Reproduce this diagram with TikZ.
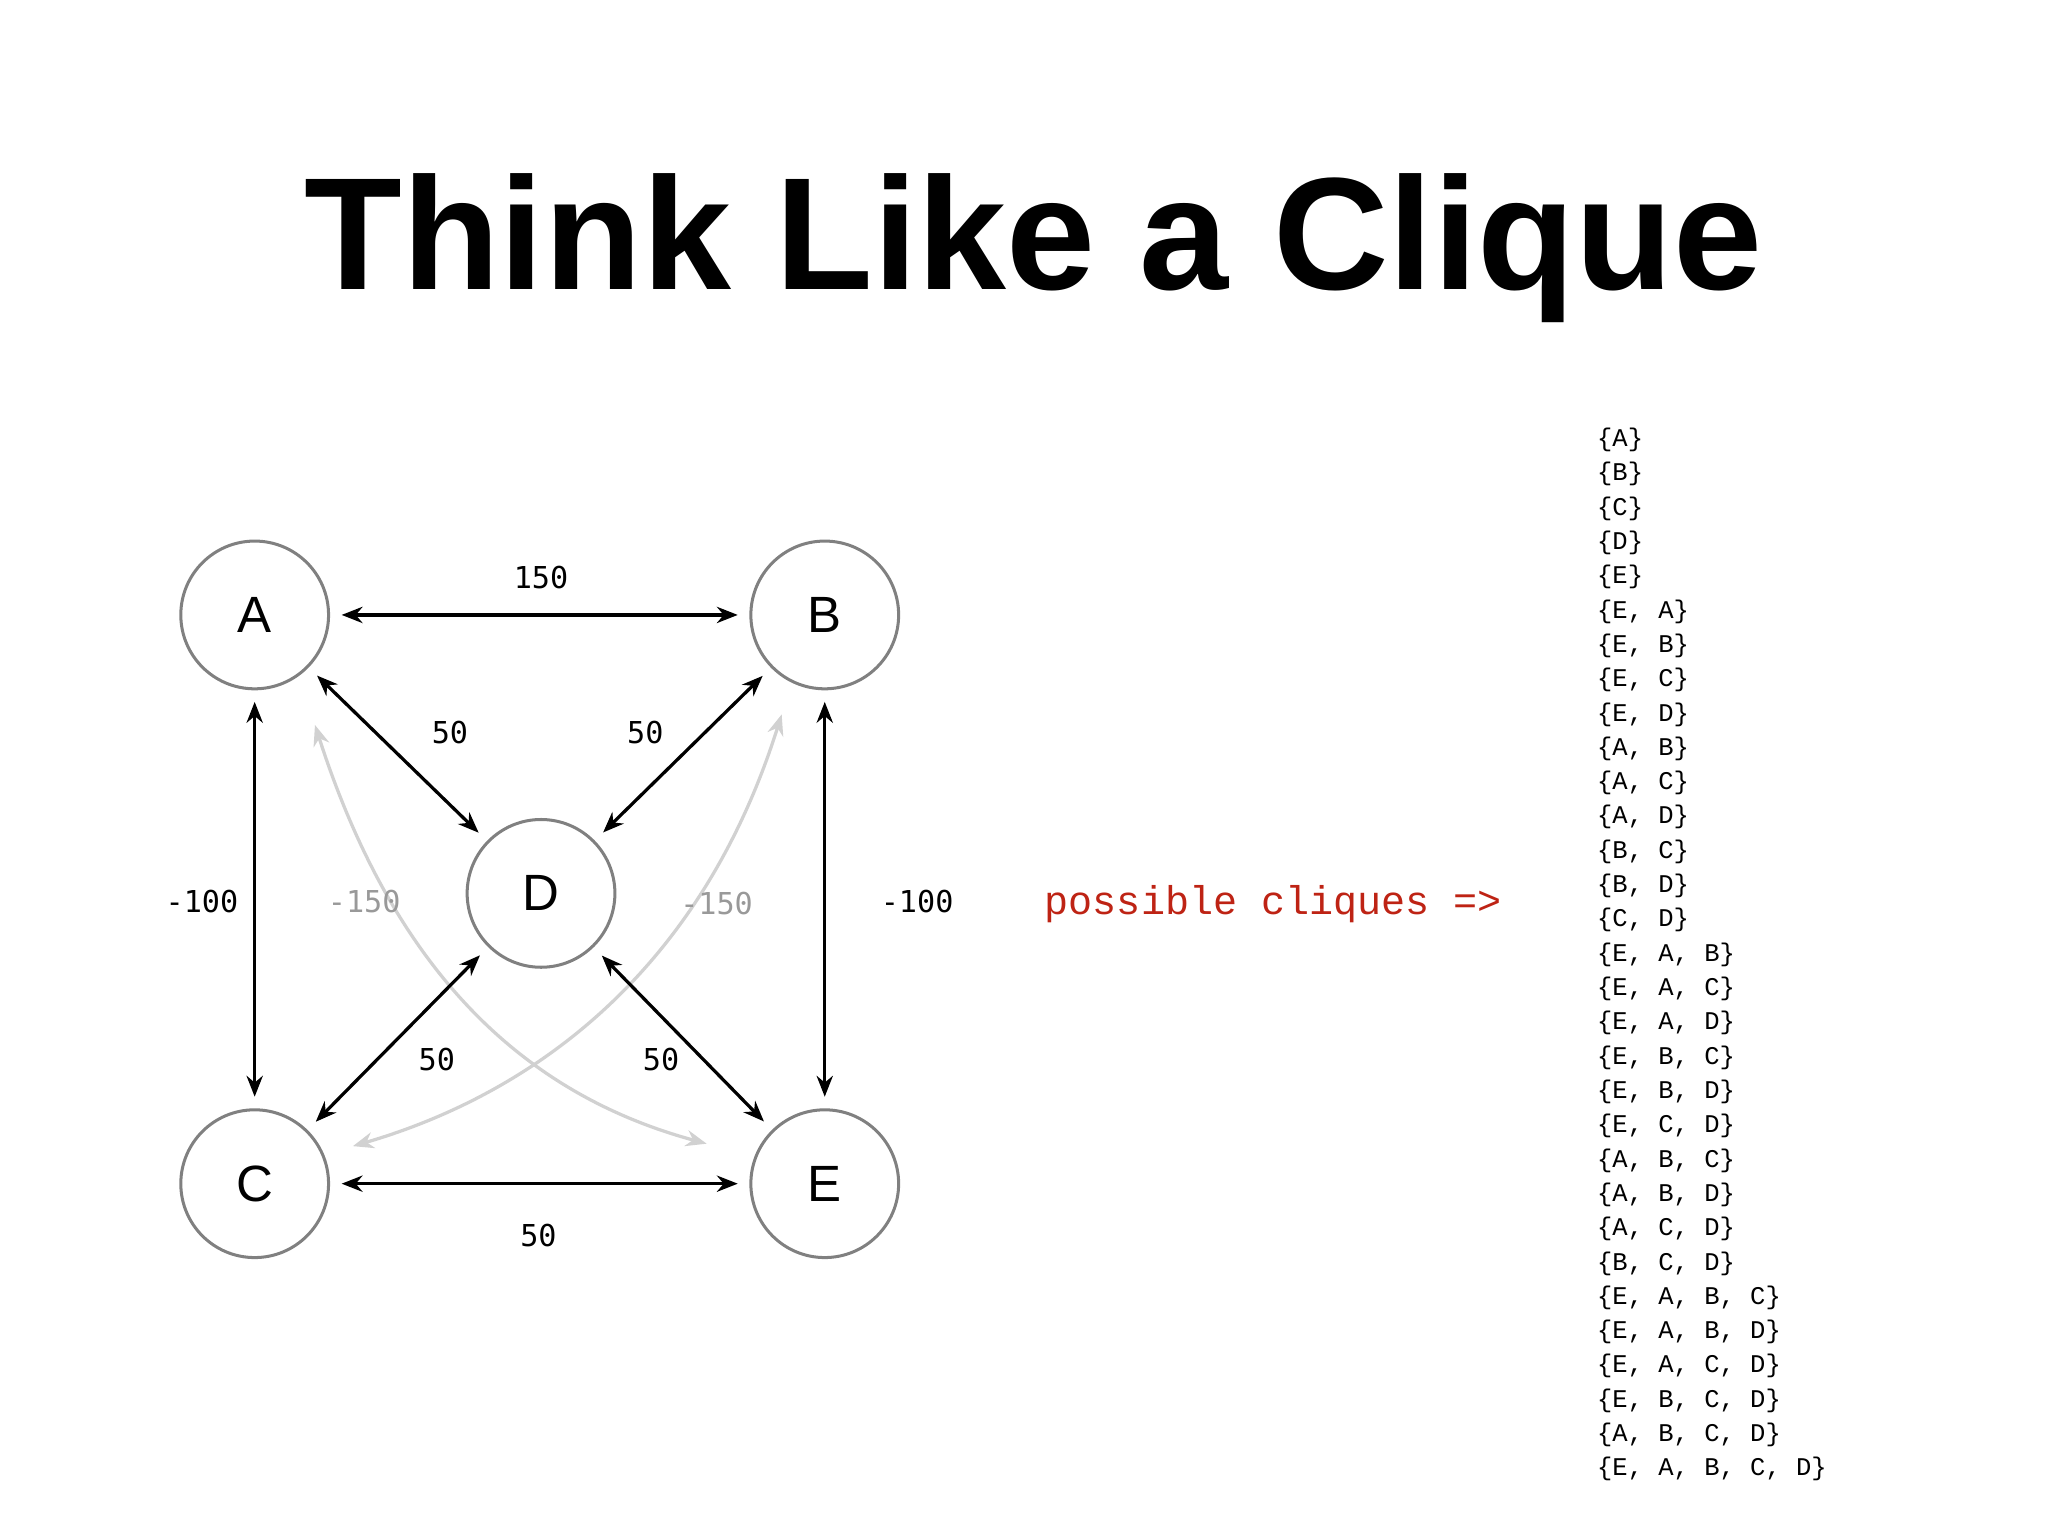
\documentclass[tikz,border=0pt]{standalone}
\usepackage{fontspec}
\setmainfont{Liberation Sans}
\newfontfamily\cour{Liberation Mono}
\newfontfamily\mono{DejaVu Sans Mono}
\usetikzlibrary{arrows.meta}
\begin{document}
\begin{tikzpicture}[x=0.02cm,y=-0.02cm,
  vert/.style={circle,draw=black!50,line width=1.3pt,minimum size=2.24cm,inner sep=0pt,font=\fontsize{22}{26}\selectfont},
  edge/.style={{Stealth[length=9pt,width=7pt]}-{Stealth[length=9pt,width=7pt]},line width=1.4pt,shorten <=5pt,shorten >=5pt},
  gedge/.style={edge,draw=black!18},
  elab/.style={font=\mono\fontsize{13}{15}\selectfont}]
\useasboundingbox (0,0) rectangle (1552,1164);
\node[font=\bfseries\fontsize{69}{74}\selectfont] (t) at (783,188) {Think Like a Clique};
\node[vert] (A) at (193,466) {A};
\node[vert] (B) at (625,466) {B};
\node[vert] (C) at (193,897) {C};
\node[vert] (D) at (410,677) {D};
\node[vert] (E) at (625,897) {E};
\coordinate (ga) at (236,541);
\coordinate (ge) at (544,869);
\coordinate (gb) at (595,533);
\coordinate (gc) at (259,871);
\draw[gedge] (ga) .. controls (300,740) and (400,830) .. (ge);
\draw[gedge] (gb) .. controls (530,740) and (400,830) .. (gc);
\draw[edge] (A) -- (B);
\draw[edge] (C) -- (E);
\draw[edge] (A) -- (C);
\draw[edge] (B) -- (E);
\draw[edge] (A) -- (D);
\draw[edge] (B) -- (D);
\draw[edge] (C) -- (D);
\draw[edge] (E) -- (D);
\node[elab] (l1) at (410,438) {150};
\node[elab] (l2) at (408,936) {50};
\node[elab] (l3) at (153,683) {-100};
\node[elab] (l4) at (695,683) {-100};
\node[elab] (l5) at (341,555) {50};
\node[elab] (l6) at (489,555) {50};
\node[elab] (l7) at (331,803) {50};
\node[elab] (l8) at (501,803) {50};
\node[elab,text=black!40] (l9) at (276,683) {-150};
\node[elab,text=black!40] (l10) at (543,685) {-150};
\node[font=\cour\fontsize{17.3}{20}\selectfont,text={rgb,255:red,190;green,35;blue,20}] (pc) at (965,685) {possible cliques =>};
\node[anchor=north west,inner sep=0pt,font=\cour\fontsize{11}{14.8}\selectfont,align=left] (list) at (1210,324) {%
\{A\}\\\{B\}\\\{C\}\\\{D\}\\\{E\}\\\{E, A\}\\\{E, B\}\\\{E, C\}\\\{E, D\}\\\{A, B\}\\\{A, C\}\\\{A, D\}\\\{B, C\}\\\{B, D\}\\\{C, D\}\\%
\{E, A, B\}\\\{E, A, C\}\\\{E, A, D\}\\\{E, B, C\}\\\{E, B, D\}\\\{E, C, D\}\\\{A, B, C\}\\\{A, B, D\}\\\{A, C, D\}\\\{B, C, D\}\\%
\{E, A, B, C\}\\\{E, A, B, D\}\\\{E, A, C, D\}\\\{E, B, C, D\}\\\{A, B, C, D\}\\\{E, A, B, C, D\}};
\end{tikzpicture}
\end{document}
